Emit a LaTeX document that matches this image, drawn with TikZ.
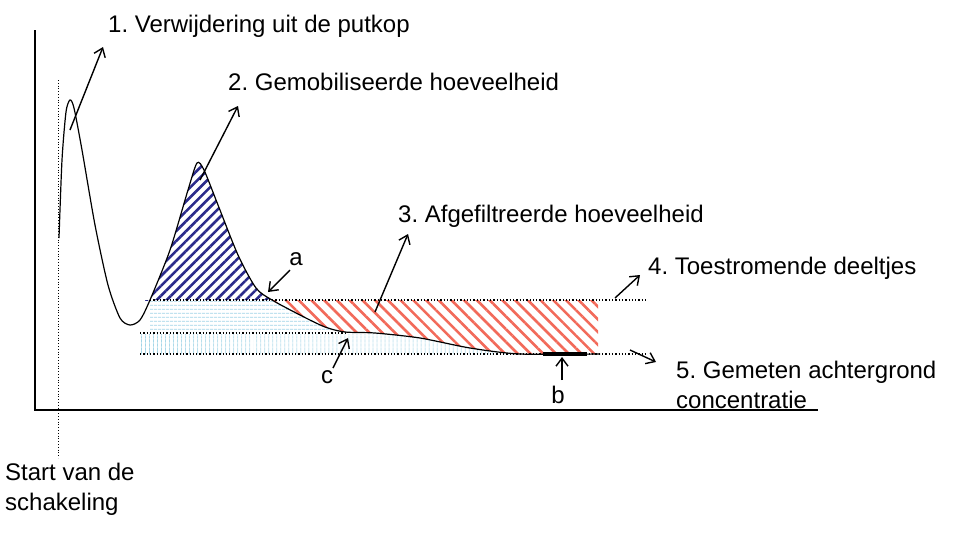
\documentclass[tikz,border=0pt]{standalone}
\usepackage{fontspec}
\setmainfont{Liberation Sans}
\frenchspacing
\usetikzlibrary{patterns.meta,arrows.meta}
\definecolor{hb}{HTML}{2A2A8A}
\definecolor{hr}{HTML}{F26A5A}
\definecolor{lb}{HTML}{9ED3E6}
\begin{document}
\begin{tikzpicture}[x=1pt,y=-1pt,
  lbl/.style={font=\fontsize{24}{30}\selectfont,inner sep=0pt},
  arr/.style={-{Straight Barb[length=8pt,width=12pt]},line width=1.4pt},
  dot/.style={dotted,line width=1.3pt}]
\useasboundingbox (0,0) rectangle (955,536);
\def\curve{plot[smooth,tension=0.45] coordinates{(59,238) (62,160) (66,112) (70,100) (74,108) (82,150) (95,225) (108,285) (120,318) (130,325) (140,320) (150,300) (170,250) (188,190) (197,163) (204,170) (218,205) (238,255) (256,288) (272,300) (300,315) (325,327) (345,332) (375,333) (420,338) (470,348) (520,354) (600,354)}}
% fills
\begin{scope}\clip (145,0) rectangle (272,300);
 \fill[pattern={Lines[angle=45,distance=7pt,line width=2.6pt]},pattern color=hb] \curve -- (600,300) -- (59,300) -- cycle;
\end{scope}
\begin{scope}\clip (272,300) rectangle (598,354);
 \fill[pattern={Lines[angle=-45,distance=9pt,line width=2.6pt]},pattern color=hr] \curve -- (600,280) -- (59,280) -- cycle;
\end{scope}
\begin{scope}\clip (150,301) rectangle (400,332);
 \fill[pattern={Lines[angle=0,distance=4pt,line width=0.9pt]},pattern color=lb] \curve -- (600,420) -- (59,420) -- cycle;
\end{scope}
\begin{scope}\clip (140,334) rectangle (600,354);
 \fill[pattern={Lines[angle=90,distance=4pt,line width=0.9pt]},pattern color=lb] \curve -- (600,420) -- (59,420) -- cycle;
\end{scope}
\draw[line width=1.2pt] \curve;
% axes
\coordinate (ya) at (35,30); \coordinate (o) at (35,410); \coordinate (xa) at (818,410);
\draw[line width=1.2pt] (ya) -- (o) -- (xa);
\coordinate (s1) at (58,80); \coordinate (s2) at (58,458);
\draw[dotted,line width=0.8pt] (s1) -- (s2);
% dotted levels
\coordinate (l1a) at (150,300); \coordinate (l1b) at (648,300);
\coordinate (l2a) at (140,333); \coordinate (l2b) at (345,333);
\coordinate (l3a) at (140,354); \coordinate (l3b) at (648,354);
\draw[dot] (l1a) -- (l1b); \draw[dot] (l2a) -- (l2b); \draw[dot] (l3a) -- (l3b);
\coordinate (bb1) at (543,354); \coordinate (bb2) at (587,354);
\draw[line width=4pt] (bb1) -- (bb2);
% labels
\node[lbl,anchor=base west] (t1) at (108,32) {1. Verwijdering uit de putkop};
\node[lbl,anchor=base west] (t2) at (228,90) {2. Gemobiliseerde hoeveelheid};
\node[lbl,anchor=base west] (t3) at (398,222) {3. Afgefiltreerde hoeveelheid};
\node[lbl,anchor=base west] (t4) at (648,274) {4. Toestromende deeltjes};
\node[lbl,anchor=base west,align=left] (t5) at (676,408) {5. Gemeten achtergrond\\concentratie};
\node[lbl,anchor=base west,align=left] (t6) at (5,510) {Start van de\\schakeling};
\node[lbl] (ta) at (296,259) {a};
\node[lbl] (tc) at (327,377) {c};
\node[lbl] (tb) at (558,395) {b};
% arrows
\coordinate (a1s) at (70,130); \coordinate (a1e) at (103,47);
\coordinate (a2s) at (200,180); \coordinate (a2e) at (238,106);
\coordinate (a3s) at (375,312); \coordinate (a3e) at (408,234);
\coordinate (a4s) at (615,298); \coordinate (a4e) at (640,275);
\coordinate (a5s) at (630,350); \coordinate (a5e) at (656,362);
\coordinate (aas) at (290,270); \coordinate (aae) at (268,292);
\coordinate (acs) at (333,368); \coordinate (ace) at (348,338);
\coordinate (abs) at (562,380); \coordinate (abe) at (562,357);
\foreach \s/\e in {a1s/a1e,a2s/a2e,a3s/a3e,a4s/a4e,a5s/a5e,aas/aae,acs/ace,abs/abe}
  \draw[arr] (\s) -- (\e);
\end{tikzpicture}
\end{document}
